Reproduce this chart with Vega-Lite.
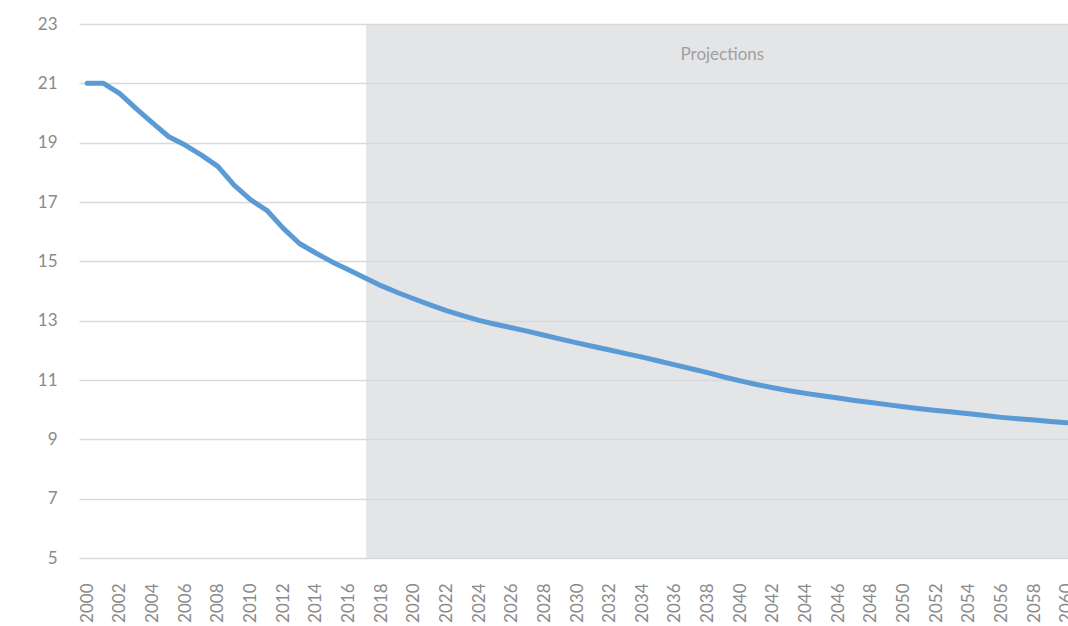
{
  "$schema": "https://vega.github.io/schema/vega-lite/v6.json",
  "autosize": "none",
  "width": 989,
  "height": 534,
  "padding": {"left": 79, "top": 24, "right": 0, "bottom": 68},
  "background": "white",
  "config": {
    "view": {"stroke": null},
    "font": "Lato",
    "axis": {"labelOverlap": false}
  },
  "datasets": {
    "series": [
      {"year": 2000, "value": 21.0}, {"year": 2001, "value": 21.0}, {"year": 2002, "value": 20.65},
      {"year": 2003, "value": 20.15}, {"year": 2004, "value": 19.67}, {"year": 2005, "value": 19.2},
      {"year": 2006, "value": 18.92}, {"year": 2007, "value": 18.58}, {"year": 2008, "value": 18.2},
      {"year": 2009, "value": 17.57}, {"year": 2010, "value": 17.08}, {"year": 2011, "value": 16.72},
      {"year": 2012, "value": 16.12}, {"year": 2013, "value": 15.6}, {"year": 2014, "value": 15.28},
      {"year": 2015, "value": 14.98}, {"year": 2016, "value": 14.72}, {"year": 2017, "value": 14.45},
      {"year": 2018, "value": 14.18}, {"year": 2019, "value": 13.95}, {"year": 2020, "value": 13.74},
      {"year": 2021, "value": 13.53}, {"year": 2022, "value": 13.34}, {"year": 2023, "value": 13.17},
      {"year": 2024, "value": 13.01}, {"year": 2025, "value": 12.88}, {"year": 2026, "value": 12.76},
      {"year": 2027, "value": 12.64}, {"year": 2028, "value": 12.51}, {"year": 2029, "value": 12.38},
      {"year": 2030, "value": 12.25}, {"year": 2031, "value": 12.13}, {"year": 2032, "value": 12.01},
      {"year": 2033, "value": 11.89}, {"year": 2034, "value": 11.77}, {"year": 2035, "value": 11.64},
      {"year": 2036, "value": 11.51}, {"year": 2037, "value": 11.38}, {"year": 2038, "value": 11.25},
      {"year": 2039, "value": 11.1}, {"year": 2040, "value": 10.97}, {"year": 2041, "value": 10.85},
      {"year": 2042, "value": 10.74}, {"year": 2043, "value": 10.64}, {"year": 2044, "value": 10.55},
      {"year": 2045, "value": 10.47}, {"year": 2046, "value": 10.39}, {"year": 2047, "value": 10.31},
      {"year": 2048, "value": 10.24}, {"year": 2049, "value": 10.17}, {"year": 2050, "value": 10.1},
      {"year": 2051, "value": 10.03}, {"year": 2052, "value": 9.97}, {"year": 2053, "value": 9.92},
      {"year": 2054, "value": 9.86}, {"year": 2055, "value": 9.8}, {"year": 2056, "value": 9.74},
      {"year": 2057, "value": 9.69}, {"year": 2058, "value": 9.65}, {"year": 2059, "value": 9.6},
      {"year": 2060, "value": 9.56}
    ],
    "shade": [{"year": 2017.08, "end": 2061, "value": 5, "high": 23}],
    "note": [{"year": 2038.9, "value": 21.96, "label": "Projections"}]
  },
  "encoding": {
    "x": {
      "field": "year", "type": "quantitative",
      "scale": {"domain": [1999.5, 2060.07], "nice": false, "zero": false},
      "axis": {
        "title": null, "values": [2000,2002,2004,2006,2008,2010,2012,2014,2016,2018,2020,2022,2024,2026,2028,2030,2032,2034,2036,2038,2040,2042,2044,2046,2048,2050,2052,2054,2056,2058,2060],
        "format": "d", "grid": false, "domain": false, "ticks": false,
        "labelAngle": 270, "labelAlign": "right", "labelBaseline": "middle",
        "labelPadding": 25, "labelFontSize": 17, "labelColor": "#8a8a8a",
        "labelOverlap": false, "labelFlush": false, "labelBound": false
      }
    },
    "y": {
      "field": "value", "type": "quantitative",
      "scale": {"domain": [5, 23], "nice": false, "zero": false},
      "axis": {
        "title": null, "values": [5,7,9,11,13,15,17,19,21,23],
        "grid": true, "gridColor": "#d9d9d9", "gridWidth": 1.5,
        "domain": false, "ticks": false, "labelPadding": 22,
        "labelFontSize": 17, "labelColor": "#8a8a8a", "labelOverlap": false
      }
    }
  },
  "layer": [
    {
      "data": {"name": "shade"},
      "mark": {"type": "rect", "fill": "#d7d9dc", "fillOpacity": 0.68, "clip": true},
      "encoding": {
        "x2": {"field": "end"},
        "y2": {"field": "high"}
      }
    },
    {
      "data": {"name": "series"},
      "mark": {"type": "line", "stroke": "#5b9bd5", "strokeWidth": 5, "strokeCap": "round", "strokeJoin": "round", "clip": true}
    },
    {
      "data": {"name": "note"},
      "mark": {"type": "text", "fontSize": 17, "color": "#a0a0a0", "align": "center", "baseline": "middle"},
      "encoding": {
        "text": {"field": "label"}
      }
    }
  ]
}
